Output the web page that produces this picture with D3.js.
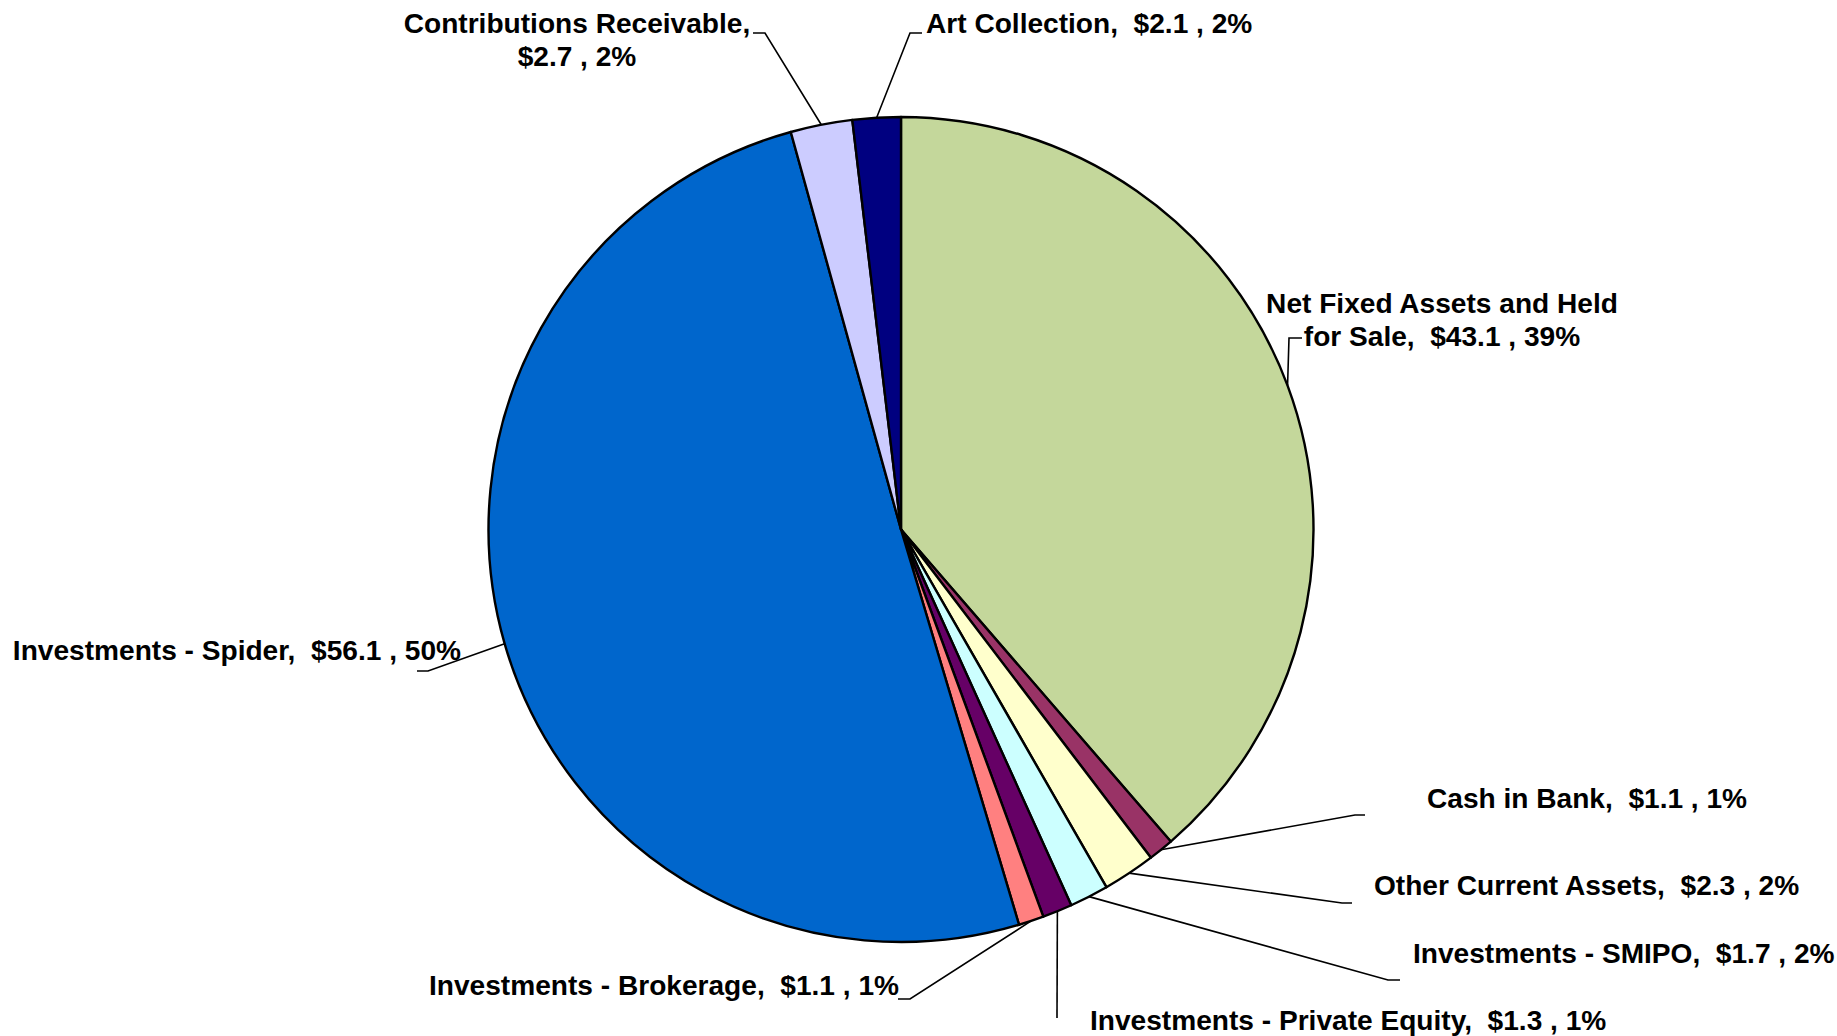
<html>
<head>
<meta charset="utf-8">
<title>Assets</title>
<style>
  body { margin: 0; background: #fff; }
  text { font-family: Arial, "Liberation Sans", sans-serif; font-weight: bold; white-space: pre; }
</style>
<script src="https://d3js.org/d3.v7.min.js" charset="utf-8"></script>
</head>
<body>
<svg width="1837" height="1036"></svg>
<script>
// slices, clockwise from 12 o'clock ($ millions)
var names = ["Net Fixed Assets and Held for Sale", "Cash in Bank", "Other Current Assets",
             "Investments - SMIPO", "Investments - Private Equity", "Investments - Brokerage",
             "Investments - Spider", "Contributions Receivable", "Art Collection"];
var values = [43.1, 1.1, 2.3, 1.7, 1.3, 1.1, 56.1, 2.7, 2.1];
var colors = ["#C4D79B", "#993366", "#FFFFCC", "#CCFFFF", "#660066", "#FF8080", "#0066CC", "#CCCCFF", "#000080"];

// where each label sits (Excel placed these by hand)
// wrap: first line when the label breaks in two
var labelPos = [
  {x: 1442, y: 313, anchor: "middle", elbow: [1289, 338], end: [1302, 338], wrap: "Net Fixed Assets and Held"},
  {x: 1427, y: 808, anchor: "start",  elbow: [1355, 815], end: [1365, 815]},
  {x: 1374, y: 895, anchor: "start",  elbow: [1342, 903], end: [1352, 903]},
  {x: 1413, y: 963, anchor: "start",  elbow: [1388, 980], end: [1400, 980]},
  {x: 1090, y: 1030, anchor: "start", elbow: [1057, 1018], end: [1057, 1018]},
  {x: 899,  y: 995, anchor: "end",    elbow: [910, 999], end: [898, 999]},
  {x: 461,  y: 660, anchor: "end",    elbow: [428, 671], end: [417, 671]},
  {x: 577,  y: 33,  anchor: "middle", elbow: [765, 33], end: [753, 33], wrap: "Contributions Receivable,"},
  {x: 926,  y: 33,  anchor: "start",  elbow: [910, 33], end: [922, 33]}
];

var svg = d3.select("svg");
var cx = 901, cy = 529.5, r = 412.5;
var g = svg.append("g").attr("transform", "translate(" + cx + "," + cy + ")");

var total = d3.sum(values);
var data = values.map(function(v, i) { return {name: names[i], value: v, i: i}; });

var pie = d3.pie().sort(null).value(d => d.value);
var arc = d3.arc().innerRadius(0).outerRadius(r);
var edge = d3.arc().innerRadius(r).outerRadius(r);
var arcs = pie(data);

g.selectAll("path.slice")
  .data(arcs)
  .enter()
  .append("path")
  .attr("class", "slice")
  .attr("d", arc)
  .attr("fill", d => colors[d.data.i])
  .attr("stroke", "#000")
  .attr("stroke-width", 2.4)
  .attr("stroke-linejoin", "round");

// leader lines
svg.selectAll("polyline.leader")
  .data(arcs)
  .enter()
  .append("polyline")
  .attr("class", "leader")
  .attr("points", function(d) {
    var p = edge.centroid(d);
    var lp = labelPos[d.data.i];
    return [[p[0] + cx, p[1] + cy], lp.elbow, lp.end].map(q => q.join(",")).join(" ");
  })
  .attr("fill", "none")
  .attr("stroke", "#000")
  .attr("stroke-width", 1.6);

// labels
var fmt = d3.format("$.1f");
var lh = 33;
svg.selectAll("text.lbl")
  .data(arcs)
  .enter()
  .append("text")
  .attr("class", "lbl")
  .attr("font-size", 28.1)
  .attr("fill", "#000")
  .attr("text-anchor", d => labelPos[d.data.i].anchor)
  .each(function(d) {
    var lp = labelPos[d.data.i];
    var full = d.data.name + ",  " + fmt(d.data.value) + " , " + Math.round(d.data.value / total * 100) + "%";
    var lines = [full];
    if (lp.wrap) {
      lines = [lp.wrap, full.slice(lp.wrap.length).trim()];
    }
    var t = d3.select(this);
    lines.forEach(function(s, k) {
      t.append("tspan").attr("x", lp.x).attr("y", lp.y + k * lh).text(s);
    });
  });
</script>
</body>
</html>
